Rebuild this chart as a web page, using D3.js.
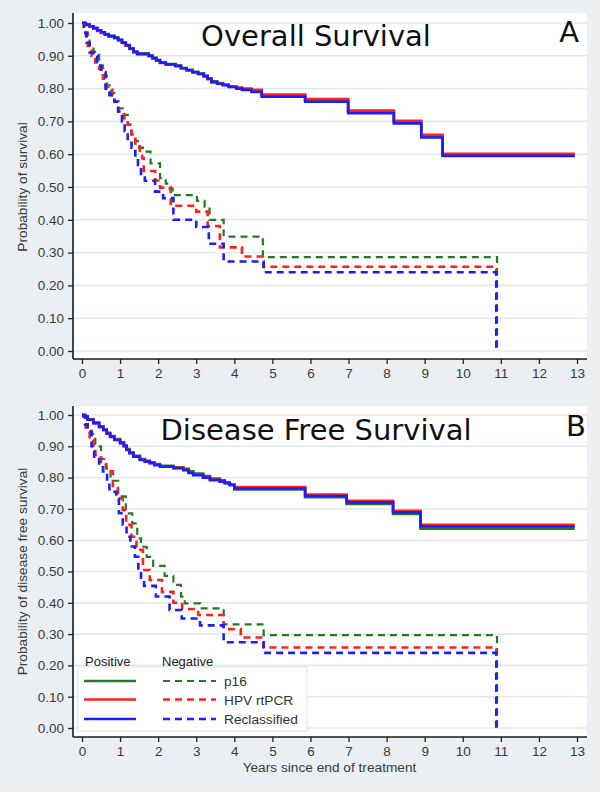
<!DOCTYPE html>
<html><head><meta charset="utf-8">
<script src="https://cdn.jsdelivr.net/npm/d3@7"></script>
<style>
html,body{margin:0;padding:0;background:#e9eff2;}
svg{display:block;}
</style></head>
<body>
<svg id="chart" width="600" height="792"></svg>
<script>
// ---------------- DATA ----------------
const xTicks = [0,1,2,3,4,5,6,7,8,9,10,11,12,13];
const yTicks = [0,0.1,0.2,0.3,0.4,0.5,0.6,0.7,0.8,0.9,1.0];
const seriesNames = ["p16","HPV rtPCR","Reclassified"];
const seriesColors = ["#237a23","#ff1f1f","#1c1cff"];
const panelTitles = ["Overall Survival","Disease Free Survival"];
const panelLetters = ["A","B"];
const yTitles = ["Probability of survival","Probability of disease free survival"];
const xTitle = "Years since end of treatment";
const legendHeaders = ["Positive","Negative"];

// Overall survival – positive (solid)
const osP16Pos = [[0,1],[0.1,0.995],[0.2,0.99],[0.3,0.984],[0.4,0.978],[0.5,0.972],[0.6,0.966],[0.7,0.961],[0.85,0.956],[0.95,0.949],[1.05,0.941],[1.15,0.933],[1.25,0.923],[1.35,0.913],[1.45,0.907],[1.75,0.901],[1.85,0.894],[1.95,0.887],[2.05,0.88],[2.2,0.875],[2.45,0.87],[2.6,0.863],[2.75,0.857],[2.9,0.851],[3.05,0.846],[3.2,0.839],[3.3,0.831],[3.4,0.822],[3.55,0.817],[3.7,0.812],[3.85,0.807],[4.05,0.802],[4.2,0.798],[4.45,0.793],[4.72,0.779],[5.86,0.764],[6.99,0.729],[8.19,0.698],[8.91,0.655],[9.47,0.598],[12.94,0.598]];
const osHpvPos = [[0,1],[0.1,0.994],[0.2,0.989],[0.3,0.983],[0.4,0.976],[0.5,0.97],[0.6,0.964],[0.7,0.959],[0.85,0.954],[0.95,0.947],[1.05,0.939],[1.15,0.931],[1.25,0.921],[1.35,0.911],[1.45,0.905],[1.75,0.899],[1.85,0.892],[1.95,0.885],[2.05,0.878],[2.2,0.874],[2.45,0.869],[2.6,0.862],[2.75,0.856],[2.9,0.85],[3.05,0.845],[3.2,0.837],[3.3,0.829],[3.4,0.819],[3.55,0.815],[3.7,0.811],[3.85,0.807],[4.05,0.803],[4.2,0.8],[4.45,0.796],[4.72,0.782],[5.86,0.768],[6.99,0.733],[8.19,0.702],[8.91,0.659],[9.47,0.601],[12.94,0.601]];
const osReclPos = [[0,1],[0.1,0.995],[0.2,0.99],[0.3,0.985],[0.4,0.978],[0.5,0.972],[0.6,0.965],[0.7,0.96],[0.85,0.955],[0.95,0.948],[1.05,0.94],[1.15,0.932],[1.25,0.922],[1.35,0.912],[1.45,0.906],[1.75,0.9],[1.85,0.893],[1.95,0.886],[2.05,0.879],[2.2,0.874],[2.45,0.869],[2.6,0.862],[2.75,0.856],[2.9,0.85],[3.05,0.845],[3.2,0.838],[3.3,0.83],[3.4,0.82],[3.55,0.815],[3.7,0.81],[3.85,0.805],[4.05,0.8],[4.2,0.796],[4.45,0.79],[4.72,0.775],[5.86,0.76],[6.99,0.725],[8.19,0.694],[8.91,0.651],[9.47,0.595],[12.94,0.595]];
// Overall survival – negative (dashed)
const osP16Neg = [[0,1],[0.1,0.96],[0.2,0.93],[0.3,0.912],[0.45,0.87],[0.55,0.84],[0.65,0.81],[0.76,0.786],[0.85,0.76],[0.95,0.74],[1.1,0.72],[1.2,0.69],[1.3,0.66],[1.4,0.64],[1.5,0.62],[1.6,0.608],[1.8,0.572],[2.05,0.527],[2.2,0.51],[2.3,0.495],[2.38,0.475],[3.02,0.458],[3.22,0.44],[3.35,0.40],[3.72,0.349],[4.75,0.286],[10.9,0]];
const osHpvNeg = [[0,1],[0.05,0.97],[0.15,0.93],[0.25,0.9],[0.35,0.88],[0.45,0.86],[0.55,0.83],[0.62,0.806],[0.8,0.78],[0.85,0.76],[0.95,0.73],[1.1,0.71],[1.2,0.69],[1.3,0.66],[1.4,0.633],[1.52,0.61],[1.58,0.588],[1.62,0.549],[1.92,0.52],[2.05,0.498],[2.33,0.443],[3.0,0.425],[3.3,0.381],[3.62,0.316],[4.2,0.288],[4.77,0.257],[10.88,0]];
const osReclNeg = [[0,1],[0.05,0.97],[0.12,0.94],[0.2,0.91],[0.3,0.9],[0.4,0.87],[0.5,0.85],[0.62,0.8],[0.72,0.78],[0.85,0.76],[0.95,0.73],[1.05,0.7],[1.12,0.67],[1.2,0.64],[1.3,0.62],[1.4,0.59],[1.47,0.567],[1.55,0.54],[1.65,0.519],[1.92,0.486],[2.13,0.466],[2.4,0.4],[3.0,0.378],[3.33,0.327],[3.72,0.273],[4.77,0.24],[10.88,0]];

// Disease free survival – positive (solid)
const dfsP16Pos = [[0,1],[0.05,0.995],[0.15,0.986],[0.3,0.976],[0.45,0.964],[0.56,0.954],[0.65,0.943],[0.74,0.933],[0.85,0.923],[1.0,0.913],[1.1,0.903],[1.17,0.891],[1.25,0.881],[1.35,0.87],[1.52,0.859],[1.65,0.854],[1.78,0.849],[1.9,0.843],[2.05,0.838],[2.4,0.833],[2.66,0.828],[2.8,0.82],[2.92,0.813],[3.18,0.805],[3.36,0.797],[3.62,0.791],[3.75,0.785],[3.88,0.778],[4.0,0.762],[5.86,0.737],[6.95,0.716],[8.17,0.684],[8.89,0.637],[12.94,0.637]];
const dfsHpvPos = [[0,1],[0.05,0.995],[0.15,0.985],[0.3,0.974],[0.45,0.962],[0.56,0.952],[0.65,0.941],[0.74,0.931],[0.85,0.921],[1.0,0.911],[1.1,0.901],[1.17,0.889],[1.25,0.879],[1.35,0.868],[1.52,0.857],[1.65,0.852],[1.78,0.847],[1.9,0.841],[2.05,0.836],[2.4,0.831],[2.66,0.825],[2.8,0.816],[2.92,0.809],[3.18,0.801],[3.36,0.793],[3.62,0.788],[3.75,0.783],[3.88,0.777],[4.0,0.77],[5.86,0.746],[6.95,0.726],[8.17,0.694],[8.89,0.649],[12.94,0.649]];
const dfsReclPos = [[0,1],[0.05,0.995],[0.15,0.985],[0.3,0.974],[0.45,0.962],[0.56,0.952],[0.65,0.94],[0.74,0.93],[0.85,0.92],[1.0,0.91],[1.1,0.9],[1.17,0.888],[1.25,0.878],[1.35,0.867],[1.52,0.856],[1.65,0.851],[1.78,0.846],[1.9,0.84],[2.05,0.835],[2.4,0.83],[2.66,0.824],[2.8,0.815],[2.92,0.808],[3.18,0.8],[3.36,0.792],[3.62,0.787],[3.75,0.782],[3.88,0.776],[4.0,0.765],[5.86,0.741],[6.95,0.721],[8.17,0.689],[8.89,0.644],[12.94,0.644]];
// Disease free survival – negative (dashed)
const dfsP16Neg = [[0,1],[0.1,0.96],[0.25,0.94],[0.35,0.9],[0.5,0.86],[0.62,0.83],[0.75,0.79],[0.95,0.74],[1.15,0.686],[1.32,0.654],[1.45,0.606],[1.55,0.579],[1.7,0.547],[1.87,0.518],[2.17,0.486],[2.4,0.457],[2.6,0.42],[2.7,0.398],[3.1,0.382],[3.72,0.331],[4.77,0.297],[10.9,0]];
const dfsHpvNeg = [[0,1],[0.1,0.96],[0.2,0.92],[0.3,0.89],[0.35,0.872],[0.5,0.85],[0.64,0.82],[0.81,0.766],[0.94,0.734],[1.07,0.697],[1.16,0.649],[1.3,0.611],[1.43,0.569],[1.6,0.505],[1.78,0.473],[2.1,0.435],[2.4,0.4],[2.63,0.38],[3.05,0.361],[3.72,0.316],[4.17,0.289],[4.77,0.257],[10.88,0]];
const dfsReclNeg = [[0,1],[0.08,0.97],[0.15,0.947],[0.25,0.9],[0.32,0.867],[0.45,0.845],[0.55,0.82],[0.66,0.787],[0.72,0.755],[0.9,0.73],[0.97,0.686],[1.07,0.65],[1.17,0.611],[1.27,0.58],[1.39,0.547],[1.48,0.505],[1.55,0.48],[1.63,0.454],[1.94,0.42],[2.3,0.377],[2.62,0.35],[3.1,0.328],[3.72,0.274],[4.77,0.24],[10.88,0]];

const panelPositive = [[osP16Pos,osHpvPos,osReclPos],[dfsP16Pos,dfsHpvPos,dfsReclPos]];
const panelNegative = [[osP16Neg,osHpvNeg,osReclNeg],[dfsP16Neg,dfsHpvNeg,dfsReclNeg]];

// ---------------- LAYOUT ----------------
const svg = d3.select("#chart");
const plotLeft = 73, plotRight = 587;
const panels = [
  {whiteTop:13, yOne:23, yZero:351, axisY:359, titleY:46, letterY:42, letterX:579},
  {whiteTop:406, yOne:415, yZero:728, axisY:737, titleY:440, letterY:436, letterX:586}
];
const x = d3.scaleLinear().domain([0,13]).range([82,577]);
const axisFont = "'Liberation Sans', Arial, sans-serif";
const titleFont = "'DejaVu Sans', Verdana, sans-serif";

panels.forEach((p, i) => {
  const y = d3.scaleLinear().domain([0,1]).range([p.yZero, p.yOne]);
  const g = svg.append("g");
  // white plot area
  g.append("rect").attr("x", plotLeft).attr("y", p.whiteTop)
    .attr("width", plotRight - plotLeft).attr("height", p.axisY - p.whiteTop).attr("fill", "#fff");
  // gridlines
  g.selectAll(".grid").data(yTicks).enter().append("line")
    .attr("x1", plotLeft).attr("x2", plotRight)
    .attr("y1", d => y(d)).attr("y2", d => y(d))
    .attr("stroke", "#e3eaee").attr("stroke-width", 1.6);

  // title & letter
  g.append("text").attr("x", 316).attr("y", p.titleY).attr("text-anchor","middle")
    .attr("font-family", titleFont).attr("font-size", 29).attr("fill","#111").text(panelTitles[i]);
  g.append("text").attr("x", p.letterX).attr("y", p.letterY).attr("text-anchor","end")
    .attr("font-family", titleFont).attr("font-size", 29).attr("fill","#111").text(panelLetters[i]);

  // curves
  const line = d3.line().x(d => x(d[0])).y(d => y(d[1])).curve(d3.curveStepAfter);
  panelNegative[i].forEach((s, k) => {
    g.append("path").attr("d", line(s)).attr("fill","none")
      .attr("stroke", seriesColors[k]).attr("stroke-width", k === 0 ? 2.2 : 2.6)
      .attr("stroke-dasharray", "7,5");
  });
  panelPositive[i].forEach((s, k) => {
    g.append("path").attr("d", line(s)).attr("fill","none")
      .attr("stroke", seriesColors[k]).attr("stroke-width", 2.6);
  });

  // y axis
  const ya = g.append("g").attr("transform", `translate(${plotLeft},0)`)
    .call(d3.axisLeft(y).tickValues(yTicks).tickFormat(d3.format(".2f")).tickSize(5).tickPadding(4));
  ya.select(".domain").remove();
  ya.selectAll(".tick line").attr("stroke","#222").attr("stroke-width",1.3);
  ya.selectAll(".tick text").attr("font-family", axisFont).attr("font-size", 13.5).attr("fill","#3a3a3a");
  g.append("line").attr("x1", plotLeft).attr("x2", plotLeft).attr("y1", p.whiteTop).attr("y2", p.axisY)
    .attr("stroke","#1a1a1a").attr("stroke-width",1.6);

  // x axis
  const xa = g.append("g").attr("transform", `translate(0,${p.axisY})`)
    .call(d3.axisBottom(x).tickValues(xTicks).tickFormat(d3.format("d")).tickSize(5).tickPadding(4));
  xa.select(".domain").remove();
  xa.selectAll(".tick line").attr("stroke","#222").attr("stroke-width",1.3);
  xa.selectAll(".tick text").attr("font-family", axisFont).attr("font-size", 13.5).attr("fill","#3a3a3a");
  g.append("line").attr("x1", plotLeft).attr("x2", plotRight).attr("y1", p.axisY).attr("y2", p.axisY)
    .attr("stroke","#1a1a1a").attr("stroke-width",1.6);

  // y title
  const yc = (p.yOne + p.yZero) / 2;
  g.append("text").attr("transform", `translate(27,${yc}) rotate(-90)`).attr("text-anchor","middle")
    .attr("font-family", axisFont).attr("font-size", 13.7).attr("fill","#3a3a3a").text(yTitles[i]);
});

// x title (bottom panel only)
svg.append("text").attr("x", 329.5).attr("y", 772).attr("text-anchor","middle")
  .attr("font-family", axisFont).attr("font-size", 13.7).attr("fill","#3a3a3a").text(xTitle);

// legend
const lg = svg.append("g");
lg.append("rect").attr("x", 78).attr("y", 667).attr("width", 229).attr("height", 64)
  .attr("fill","#fff").attr("stroke","#e0e7eb").attr("stroke-width",1.2);
lg.append("text").attr("x", 85).attr("y", 666).attr("font-family", axisFont).attr("font-size", 13)
  .attr("fill","#222").text(legendHeaders[0]);
lg.append("text").attr("x", 162).attr("y", 666).attr("font-family", axisFont).attr("font-size", 13)
  .attr("fill","#222").text(legendHeaders[1]);
const rowY = [681, 699.5, 719];
seriesNames.forEach((name, k) => {
  lg.append("line").attr("x1", 84).attr("x2", 136).attr("y1", rowY[k]).attr("y2", rowY[k])
    .attr("stroke", seriesColors[k]).attr("stroke-width", 2.6);
  lg.append("line").attr("x1", 163).attr("x2", 216).attr("y1", rowY[k]).attr("y2", rowY[k])
    .attr("stroke", seriesColors[k]).attr("stroke-width", k === 0 ? 2.2 : 2.6).attr("stroke-dasharray","7,5");
  lg.append("text").attr("x", 224).attr("y", rowY[k] + 5).attr("font-family", axisFont).attr("font-size", 13.7)
    .attr("fill","#333").text(name);
});
</script>
</body></html>
